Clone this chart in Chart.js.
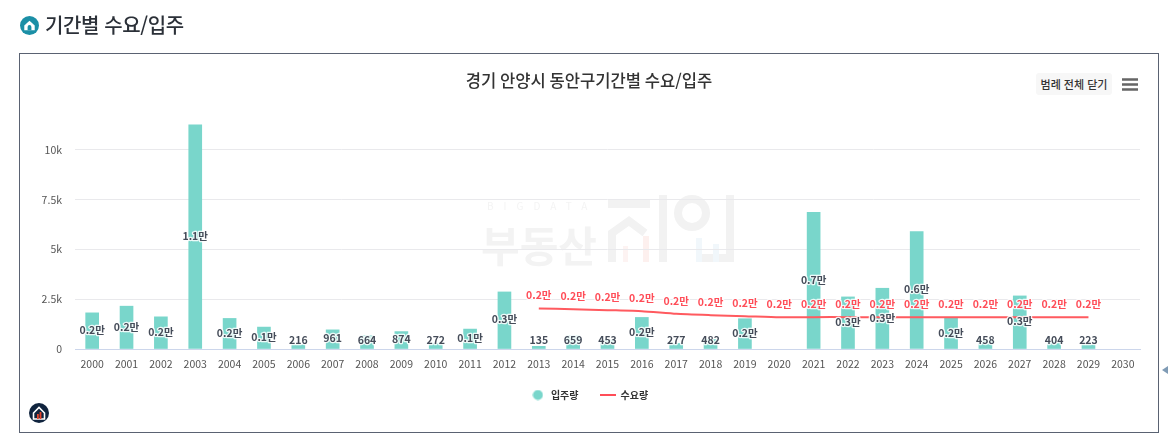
<!DOCTYPE html>
<html lang="ko">
<head>
<meta charset="utf-8">
<title>기간별 수요/입주</title>
<script src="https://cdn.jsdelivr.net/npm/chart.js@4/dist/chart.umd.min.js"></script>
<style>
    html, body { margin: 0; padding: 0; width: 1168px; height: 439px; overflow: hidden; background: #fff; font-family: "Noto Sans CJK KR", sans-serif; }
    .page { position: absolute; left: 0; top: 0; width: 1168px; height: 439px; filter: blur(0.3px); }
    .head-icon { position: absolute; left: 20px; top: 16px; width: 19px; height: 19px; }
    .head { position: absolute; left: 45px; top: 11px; font-size: 20px; line-height: 28px; font-weight: 500; color: #2b3038; letter-spacing: -0.4px; }
    .box { position: absolute; left: 19px; top: 53px; width: 1138px; height: 378px; border: 1px solid #5a6272; }
    .wm { position: absolute; left: 0; top: 0; }
    #chartWrap { position: absolute; left: 0; top: 0; width: 1138px; height: 378px; }
    .close-btn { position: absolute; left: 1016px; top: 19px; width: 76px; height: 22px; line-height: 22px; text-align: center; background: #f7f7f7; border-radius: 3px; font-size: 11px; font-weight: 500; color: #333; }
    .menu { position: absolute; left: 1102px; top: 24px; width: 16px; height: 13px; }
    .foot-icon { position: absolute; left: 29px; top: 403px; width: 20px; height: 20px; }
    .side { position: absolute; left: 1162px; top: 366px; width: 6px; height: 8px; }
</style>
</head>
<body>
<div class="page">
<svg class="head-icon" viewBox="0 0 20 20">
    <circle cx="10" cy="10" r="10" fill="#1b8fa6"/>
    <path d="M4.5 10 L10 5 L15.5 10 V15 H4.5 Z" fill="#fff"/>
    <path d="M8 15 V11.5 a2 2 0 0 1 4 0 V15 Z" fill="#1b8fa6"/>
</svg>
<div class="head">기간별 수요/입주</div>
<div class="box">
    <svg class="wm" width="1138" height="378" viewBox="0 0 1138 378">
        <text x="467" y="156" font-size="10" letter-spacing="10" fill="#f4f4f4">BIGDATA</text>
        <text x="461" y="208" font-size="42" font-weight="700" fill="#f3f3f3">부동산</text>
        <g fill="none" stroke="#f2f2f2" stroke-width="8">
            <path d="M588 150 H630"/>
            <path d="M592 208 V179 L609 167 L625 179"/>
            <path d="M643 141 V208"/>
            <circle cx="672" cy="159" r="14"/>
            <path d="M710 141 V204 H681"/>
        </g>
        <g>
            <rect x="603" y="192" width="5" height="16" fill="#fdf3f2"/>
            <rect x="623" y="182" width="6" height="26" fill="#fdf0ee"/>
            <rect x="676" y="184" width="6" height="24" fill="#f1f7fb"/>
            <rect x="693" y="190" width="6" height="18" fill="#f1f7fb"/>
        </g>
    </svg>
    <div id="chartWrap"><canvas id="mainChart"></canvas></div>
    <div class="close-btn">범례 전체 닫기</div>
    <svg class="menu" viewBox="0 0 16 13"><path d="M0 1.5 H16 M0 6.5 H16 M0 11.5 H16" stroke="#666" stroke-width="2.6"/></svg>
</div>
<svg class="foot-icon" viewBox="0 0 20 20">
    <circle cx="10" cy="10" r="10" fill="#10243e"/>
    <path d="M4.5 10 L10 4.5 L15.5 10 V16 H4.5 Z" fill="none" stroke="#fff" stroke-width="1.6"/>
    <rect x="8" y="11" width="1.8" height="5" fill="#e8452c"/>
    <rect x="10.6" y="9" width="1.8" height="7" fill="#e8452c"/>
</svg>
<svg class="side" viewBox="0 0 6 8"><path d="M0 4 L6 0 V8 Z" fill="#7f9bb5"/></svg>
</div>

<script>
const years = ['2000','2001','2002','2003','2004','2005','2006','2007','2008','2009','2010',
    '2011','2012','2013','2014','2015','2016','2017','2018','2019','2020',
    '2021','2022','2023','2024','2025','2026','2027','2028','2029','2030'];

const moveIn = [1815, 2150, 1615, 11250, 1535, 1100, 216, 961, 664, 874, 272,
    1000, 2865, 135, 659, 453, 1585, 277, 482, 1520, null,
    6865, 2615, 3050, 5900, 1550, 458, 2665, 404, 223, null];

const demand = [null, null, null, null, null, null, null, null, null, null, null,
    null, null, 2035, 2000, 1950, 1900, 1765, 1700, 1650, 1590,
    1600, 1600, 1600, 1600, 1600, 1600, 1600, 1600, 1600, null];

const yTicks = [0, 2500, 5000, 7500, 10000];

const FONT = '"Noto Sans CJK KR", sans-serif';

function labelText(v) {
    return v >= 1000 ? (v / 10000).toFixed(1) + '만' : String(v);
}

function tickText(v) {
    return v === 0 ? '0' : (v / 1000) + 'k';
}

// legend symbols: round dot and a short line, different widths
function circleMark() {
    const c = document.createElement('canvas');
    c.width = 11;
    c.height = 11;
    const g = c.getContext('2d');
    g.fillStyle = '#79d6cb';
    g.beginPath();
    g.arc(5.5, 5.5, 5, 0, Math.PI * 2);
    g.fill();
    return c;
}

function lineMark() {
    const c = document.createElement('canvas');
    c.width = 16;
    c.height = 2;
    const g = c.getContext('2d');
    g.fillStyle = '#ff4d58';
    g.fillRect(0, 0, 16, 2);
    return c;
}

// highcharts style value labels with a white outline
const valueLabels = {
    id: 'valueLabels',
    afterDatasetsDraw(chart) {
        const ctx = chart.ctx;
        const y0 = chart.scales.y.getPixelForValue(0);
        ctx.save();
        ctx.textAlign = 'center';
        ctx.textBaseline = 'middle';
        ctx.lineJoin = 'round';
        ctx.font = '700 10.5px ' + FONT;
        chart.getDatasetMeta(0).data.forEach(function (bar, i) {
            if (moveIn[i] == null) return;
            const y = Math.min((bar.y + y0) / 2 - 1, y0 - 9);
            ctx.strokeStyle = 'rgba(255,255,255,0.85)';
            ctx.lineWidth = 2.5;
            ctx.strokeText(labelText(moveIn[i]), bar.x, y);
            ctx.fillStyle = '#454c59';
            ctx.fillText(labelText(moveIn[i]), bar.x, y);
        });
        chart.getDatasetMeta(1).data.forEach(function (pt, i) {
            if (demand[i] == null) return;
            ctx.strokeStyle = 'rgba(255,255,255,0.85)';
            ctx.lineWidth = 2.5;
            ctx.strokeText(labelText(demand[i]), pt.x, pt.y - 13);
            ctx.fillStyle = '#ff4d58';
            ctx.fillText(labelText(demand[i]), pt.x, pt.y - 13);
        });
        ctx.restore();
    }
};

new Chart(document.getElementById('mainChart'), {
    type: 'bar',
    plugins: [valueLabels],
    data: {
        labels: years,
        datasets: [
            {
                type: 'bar',
                label: '입주량',
                data: moveIn,
                backgroundColor: '#79d6cb',
                pointStyle: circleMark(),
                barThickness: 13,
                order: 2
            },
            {
                type: 'line',
                label: '수요량',
                data: demand,
                borderColor: '#ff5a5f',
                backgroundColor: '#ff5a5f',
                borderWidth: 2,
                pointRadius: 0,
                pointStyle: lineMark(),
                tension: 0.2,
                order: 1
            }
        ]
    },
    options: {
        responsive: true,
        maintainAspectRatio: false,
        animation: false,
        layout: { padding: { left: 18, right: 18, top: 0, bottom: 22 } },
        plugins: {
            tooltip: { enabled: false },
            title: {
                display: true,
                text: '경기 안양시 동안구기간별 수요/입주',
                color: '#333',
                font: { family: FONT, size: 16.6, weight: '500' },
                padding: { top: 17, bottom: 33 }
            },
            legend: {
                position: 'bottom',
                labels: {
                    usePointStyle: true,
                    pointStyleWidth: 16,
                    boxHeight: 10,
                    padding: 21,
                    color: '#333',
                    font: { family: FONT, size: 10, weight: '700' },
                    sort: function (a, b) { return a.datasetIndex - b.datasetIndex; }
                }
            }
        },
        scales: {
            x: {
                offset: true,
                grid: { display: false, drawTicks: false },
                border: { color: '#ccd6eb' },
                ticks: {
                    color: '#555',
                    font: { family: FONT, size: 10.5 },
                    maxRotation: 0,
                    autoSkip: false,
                    padding: 9
                },
                afterFit(scale) { scale.height = 20; }
            },
            y: {
                min: 0,
                max: 11300,
                afterBuildTicks(scale) {
                    scale.ticks = yTicks.map(function (v) { return { value: v }; });
                },
                grid: { color: '#e9e9ec', drawTicks: false },
                border: { display: false },
                ticks: {
                    color: '#555',
                    font: { family: FONT, size: 10.5 },
                    padding: 13,
                    callback: tickText
                },
                afterFit(scale) { scale.width = 37; }
            }
        }
    }
});
</script>
</body>
</html>
